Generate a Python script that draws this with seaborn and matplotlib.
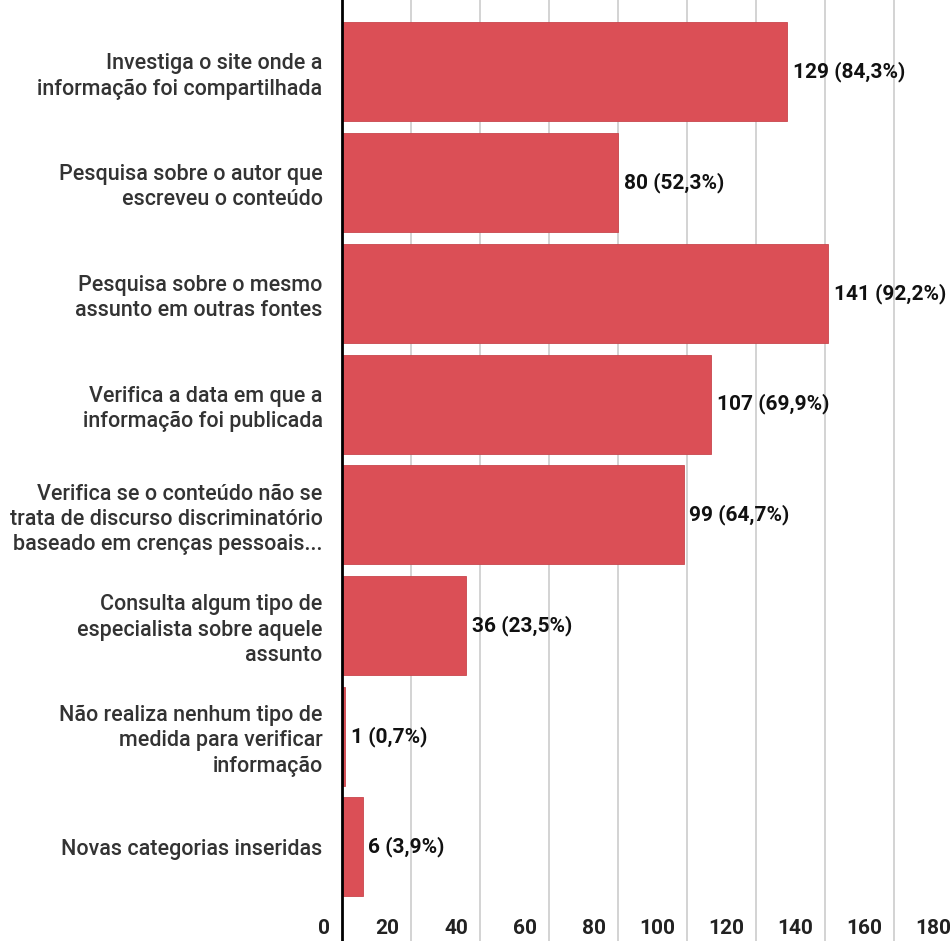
import matplotlib
matplotlib.use("Agg")
import matplotlib.pyplot as plt
import seaborn as sns
import pandas as pd
from matplotlib import transforms

categories = [
    "Investiga o site onde a\ninformação foi compartilhada",
    "Pesquisa sobre o autor que\nescreveu o conteúdo",
    "Pesquisa sobre o mesmo\nassunto em outras fontes",
    "Verifica a data em que a\ninformação foi publicada",
    "Verifica se o conteúdo não se\ntrata de discurso discriminatório\nbaseado em crenças pessoais...",
    "Consulta algum tipo de\nespecialista sobre aquele\nassunto",
    "Não realiza nenhum tipo de\nmedida para verificar\ninformação",
    "Novas categorias inseridas",
]
counts = [129, 80, 141, 107, 99, 36, 1, 6]
percents = ["84,3%", "52,3%", "92,2%", "69,9%", "64,7%", "23,5%", "0,7%", "3,9%"]
xticks = [0, 20, 40, 60, 80, 100, 120, 140, 160, 180]

sns.set_theme(style="white")
plt.rcParams['font.family'] = ['Roboto', 'DejaVu Sans']

df = pd.DataFrame({"cat": categories, "n": counts})

fig = plt.figure(figsize=(9.5, 9.41), dpi=100)
ax = fig.add_axes([342 / 950, 0.0, 621 / 950, 1.0])

sns.barplot(data=df, y="cat", x="n", orient="h", color="#DB4F56",
            saturation=1, width=0.895, ax=ax, edgecolor="#C9464C", linewidth=0.6)

ax.set_xlim(0, 180)
ax.set_ylim(7.85, -0.65)
ax.set_xlabel("")
ax.set_ylabel("")

ax.set_xticks(xticks)
ax.grid(axis="x", color="#D0D0D0", linewidth=1.3)
ax.set_axisbelow(True)
for s in ["top", "right", "bottom"]:
    ax.spines[s].set_visible(False)
ax.spines["left"].set_color("#000000")
ax.spines["left"].set_linewidth(2)
ax.spines["left"].set_zorder(5)

ax.tick_params(axis="y", length=0, pad=14, labelsize=15.5, labelcolor="#333333")
for lab in ax.get_yticklabels():
    lab.set_fontweight("medium")
    lab.set_linespacing(1.26)
    lab.set_horizontalalignment("right")
    lab.set_verticalalignment("center_baseline")

ax.set_xticklabels([])
ax.tick_params(axis="x", length=0)
# x tick labels drawn inside the axes near the bottom, right-aligned left of grid lines
offset = transforms.ScaledTranslation(-12 / 100, 0, fig.dpi_scale_trans)
trans = transforms.blended_transform_factory(ax.transData, ax.transAxes) + offset
for t in xticks:
    ax.text(t, 0.0138, str(t), transform=trans, ha="right", va="center",
            fontsize=15, fontweight="bold", color="#222222", clip_on=False)

for i, (c, p) in enumerate(zip(counts, percents)):
    ax.annotate(f"{c} ({p})", xy=(c, i), xytext=(4, 0), textcoords="offset points",
                ha="left", va="center", fontsize=15, fontweight="bold", color="#111111")

fig.savefig("out.png", dpi=100)
